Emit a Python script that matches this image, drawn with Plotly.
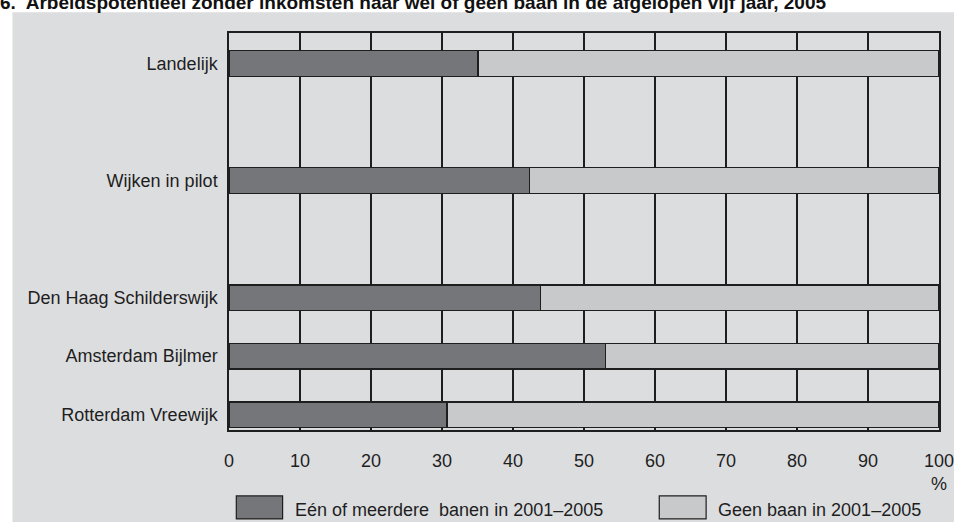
import plotly.graph_objects as go

TITLE = '6.  Arbeidspotentieel zonder inkomsten naar wel of geen baan in de afgelopen vijf jaar, 2005'

# rows from bottom to top; blank entries are the empty gaps in the chart
categories = ['Rotterdam Vreewijk', 'Amsterdam Bijlmer', 'Den Haag Schilderswijk', ' ',
              'Wijken in pilot', '  ', 'Landelijk']
regions = ['Rotterdam Vreewijk', 'Amsterdam Bijlmer', 'Den Haag Schilderswijk',
           'Wijken in pilot', 'Landelijk']
met_baan = [30.7, 53.0, 43.9, 42.3, 35.1]
geen_baan = [100 - v for v in met_baan]
series_names = ['Eén of meerdere  banen in 2001\u20132005', 'Geen baan in 2001\u20132005']
x_ticks = list(range(0, 101, 10))

DARK = '#75767a'
LIGHT = '#c8c9cb'
BG = '#dcdddf'
INK = '#1e1e1e'
FONT = 'Liberation Sans, Arial, sans-serif'

fig = go.Figure()
for vals, name, col in [(met_baan, series_names[0], DARK), (geen_baan, series_names[1], LIGHT)]:
    fig.add_trace(go.Bar(
        y=regions, x=vals, name=name, orientation='h',
        width=0.44,
        marker=dict(color=col, line=dict(color=INK, width=1.5)),
        showlegend=False, hoverinfo='skip'
    ))

# grey panel behind the chart
fig.add_shape(type='rect', xref='paper', yref='paper',
              x0=-0.305, x1=1.03, y0=-0.25, y1=1.052,
              fillcolor=BG, line_width=0, layer='below')

# hand-made legend with big swatches
legend_pos = [(0.0103, 0.0755), (0.606, 0.672)]
for (x0, x1), col, name in zip(legend_pos, [DARK, LIGHT], series_names):
    fig.add_shape(type='rect', xref='paper', yref='paper',
                  x0=x0, x1=x1, y0=-0.224, y1=-0.166,
                  fillcolor=col, line=dict(color=INK, width=1.2))
    fig.add_annotation(xref='paper', yref='paper', x=x1 + 0.0146, y=-0.202,
                       text=name, showarrow=False, xanchor='left', yanchor='middle',
                       font=dict(size=18, color=INK, family=FONT))

fig.add_annotation(xref='paper', yref='paper', x=1.0, y=-0.136, text='%',
                   showarrow=False, xanchor='center', yanchor='middle',
                   font=dict(size=18, color=INK, family=FONT))

fig.update_layout(
    barmode='stack',
    width=954, height=522,
    margin=dict(l=229, r=15, t=33, b=92, pad=0),
    paper_bgcolor='white',
    plot_bgcolor='white',
    font=dict(family=FONT, size=18, color=INK),
    title=dict(text='<b>' + TITLE + '</b>', x=0.0, xanchor='left', xref='container',
               y=0.995, yanchor='middle',
               font=dict(size=19, family=FONT, color='#111')),
    xaxis=dict(range=[0, 100], tickvals=x_ticks, showgrid=True, gridcolor=INK, gridwidth=1.5,
               showline=True, linecolor=INK, linewidth=1.5, mirror=True, zeroline=False,
               ticks='', ticklabelstandoff=14, ticklabeloverflow='allow',
               automargin=False, fixedrange=True),
    yaxis=dict(type='category', categoryorder='array', categoryarray=categories,
               range=[-0.261, 6.52], showgrid=False, showline=True, linecolor=INK,
               linewidth=1.5, mirror=True, ticks='', ticklabelstandoff=6,
               automargin=False, fixedrange=True),
)

fig.write_html('out.html', config={'displayModeBar': False},
               post_script="document.body.style.margin='0';")
